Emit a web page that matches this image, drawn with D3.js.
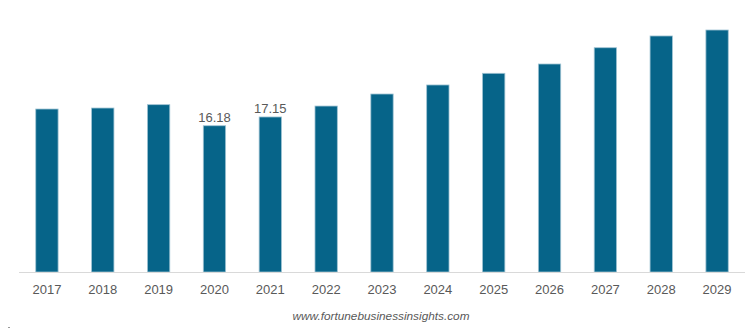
<!DOCTYPE html>
<html>
<head>
<meta charset="utf-8">
<script src="https://cdn.jsdelivr.net/npm/d3@7"></script>
<style>
  html, body { margin: 0; padding: 0; background: #ffffff; }
  svg { display: block; }
</style>
</head>
<body>
<div id="chart"></div>
<script>
// Market size by year
const years = ["2017", "2018", "2019", "2020", "2021", "2022", "2023", "2024", "2025", "2026", "2027", "2028", "2029"];
const values = [18.03, 18.14, 18.51, 16.18, 17.15, 18.36, 19.69, 20.69, 21.98, 23.01, 24.81, 26.11, 26.77];
// Only these years carry a value label
const labelledYears = ["2020", "2021"];
const sourceText = "www.fortunebusinessinsights.com";

const width = 756, height = 330;
const plot = { left: 19, right: 745, top: 0, bottom: 272 };

const svg = d3.select("#chart").append("svg")
  .attr("width", width)
  .attr("height", height);

const x = d3.scaleBand()
  .domain(years)
  .range([plot.left, plot.right])
  .paddingInner(0.6)
  .paddingOuter(0.3);

const y = d3.scaleLinear()
  .domain([0, 30.09])
  .range([plot.bottom, plot.top]);

// Bars
svg.append("g")
  .selectAll("rect")
  .data(years.map((yr, i) => ({ year: yr, value: values[i] })))
  .join("rect")
  .attr("x", d => x(d.year))
  .attr("y", d => y(d.value))
  .attr("width", x.bandwidth())
  .attr("height", d => y(0) - y(d.value))
  .attr("fill", "#066489")
  .attr("stroke", "#9fc3d3")
  .attr("stroke-width", 0.8);

// Baseline
svg.append("line")
  .attr("x1", plot.left)
  .attr("x2", plot.right)
  .attr("y1", y(0) + 0.5)
  .attr("y2", y(0) + 0.5)
  .attr("stroke", "#d9d9d9")
  .attr("stroke-width", 1);

// Category axis
const xAxis = svg.append("g")
  .attr("transform", `translate(0,${plot.bottom})`)
  .call(d3.axisBottom(x).tickSize(0).tickPadding(13));
xAxis.select(".domain").remove();
xAxis.selectAll("text")
  .attr("font-family", "Liberation Sans, Arial, sans-serif")
  .attr("font-size", 13)
  .attr("fill", "#595959");

// Value labels
svg.append("g")
  .selectAll("text")
  .data(years.map((yr, i) => ({ year: yr, value: values[i] })).filter(d => labelledYears.includes(d.year)))
  .join("text")
  .attr("x", d => x(d.year) + x.bandwidth() / 2)
  .attr("y", d => y(d.value) - 4)
  .attr("text-anchor", "middle")
  .attr("font-family", "Liberation Sans, Arial, sans-serif")
  .attr("font-size", 13)
  .attr("fill", "#595959")
  .text(d => d.value.toFixed(2));

// Source line
svg.append("text")
  .attr("x", 381)
  .attr("y", 320)
  .attr("text-anchor", "middle")
  .attr("font-family", "Liberation Sans, Arial, sans-serif")
  .attr("font-size", 11.8)
  .attr("font-style", "italic")
  .attr("fill", "#595959")
  .text(sourceText);

// Small mark in the lower-left corner
svg.append("rect")
  .attr("x", 8)
  .attr("y", 327)
  .attr("width", 2)
  .attr("height", 1)
  .attr("fill", "#999999");
</script>
</body>
</html>
